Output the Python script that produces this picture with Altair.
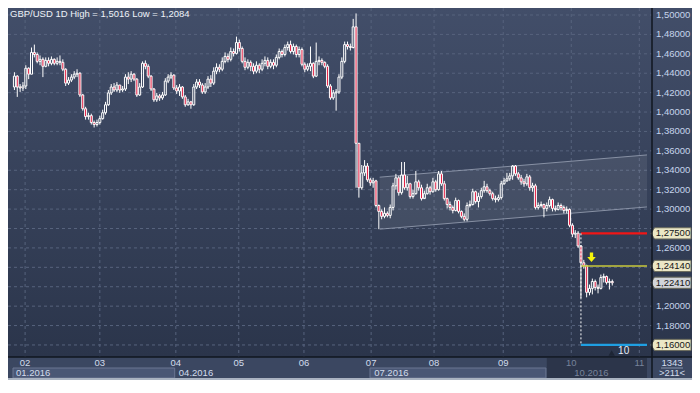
import altair as alt
import pandas as pd

FONT = "Liberation Sans"

# ---------------- data ----------------
header_text = "GBP/USD 1D  High = 1,5016  Low = 1,2084"

first_open = 1.4258
close = [
    1.4370, 1.4258, 1.4248, 1.4268, 1.4451, 1.4390, 1.4614, 1.4593, 1.4522, 1.4543,
    1.4471, 1.4532, 1.4502, 1.4543, 1.4502, 1.4522, 1.4512, 1.4441, 1.4298, 1.4329,
    1.4360, 1.4390, 1.4400, 1.4176, 1.4034, 1.3953, 1.3963, 1.3892, 1.3871, 1.3892,
    1.3932, 1.3993, 1.4075, 1.4197, 1.4258, 1.4227, 1.4278, 1.4227, 1.4237, 1.4360,
    1.4339, 1.4390, 1.4339, 1.4176, 1.4258, 1.4502, 1.4471, 1.4370, 1.4237, 1.4126,
    1.4166, 1.4146, 1.4176, 1.4319, 1.4360, 1.4380, 1.4248, 1.4217, 1.4258, 1.4156,
    1.4075, 1.4105, 1.4075, 1.4258, 1.4309, 1.4278, 1.4207, 1.4258, 1.4339, 1.4298,
    1.4421, 1.4461, 1.4441, 1.4522, 1.4573, 1.4543, 1.4624, 1.4604, 1.4716, 1.4655,
    1.4522, 1.4461, 1.4512, 1.4471, 1.4421, 1.4482, 1.4441, 1.4502, 1.4532, 1.4471,
    1.4512, 1.4482, 1.4563, 1.4624, 1.4593, 1.4665, 1.4695, 1.4624, 1.4675, 1.4593,
    1.4644, 1.4492, 1.4441, 1.4471, 1.4502, 1.4370, 1.4522, 1.4532, 1.4512, 1.4471,
    1.4268, 1.4146, 1.4197, 1.4207, 1.4360, 1.4522, 1.4695, 1.4675, 1.4665, 1.4878,
    1.3678, 1.3220, 1.3373, 1.3444, 1.3302, 1.3271, 1.3291, 1.3037, 1.2976, 1.2925,
    1.2956, 1.2935, 1.3017, 1.3240, 1.3322, 1.3169, 1.3352, 1.3220, 1.3261, 1.3129,
    1.3159, 1.3281, 1.3220, 1.3108, 1.3159, 1.3220, 1.3179, 1.3281, 1.3200, 1.3363,
    1.3261, 1.3108, 1.3047, 1.3017, 1.2986, 1.3088, 1.2976, 1.2925, 1.2895, 1.3037,
    1.3047, 1.3179, 1.3078, 1.3129, 1.3190, 1.3230, 1.3190, 1.3159, 1.3108, 1.3098,
    1.3118, 1.3261, 1.3291, 1.3312, 1.3342, 1.3444, 1.3363, 1.3322, 1.3281, 1.3261,
    1.3332, 1.3220, 1.3240, 1.3017, 1.3037, 1.3047, 1.3007, 1.3037, 1.3098, 1.3007,
    1.2996, 1.3037, 1.3017, 1.2986, 1.2996, 1.2833, 1.2742, 1.2752, 1.2620, 1.2447,
    1.2417, 1.2142, 1.2183, 1.2254, 1.2193, 1.2183, 1.2295, 1.2305, 1.2244, 1.2254,
    1.2241,
]
high = [
    1.4410, 1.4380, 1.4288, 1.4309, 1.4482, 1.4461, 1.4665, 1.4695, 1.4614, 1.4583,
    1.4563, 1.4563, 1.4563, 1.4573, 1.4553, 1.4563, 1.4583, 1.4543, 1.4451, 1.4360,
    1.4390, 1.4421, 1.4441, 1.4410, 1.4187, 1.4054, 1.3993, 1.3983, 1.3912, 1.3922,
    1.3963, 1.4024, 1.4105, 1.4227, 1.4288, 1.4298, 1.4309, 1.4278, 1.4268, 1.4390,
    1.4410, 1.4421, 1.4400, 1.4349, 1.4298, 1.4522, 1.4532, 1.4492, 1.4380, 1.4248,
    1.4197, 1.4187, 1.4207, 1.4349, 1.4390, 1.4410, 1.4390, 1.4278, 1.4288, 1.4268,
    1.4176, 1.4136, 1.4115, 1.4288, 1.4339, 1.4339, 1.4298, 1.4298, 1.4370, 1.4380,
    1.4461, 1.4502, 1.4492, 1.4563, 1.4614, 1.4604, 1.4665, 1.4655, 1.4777, 1.4746,
    1.4675, 1.4563, 1.4543, 1.4532, 1.4502, 1.4522, 1.4502, 1.4543, 1.4573, 1.4563,
    1.4543, 1.4543, 1.4593, 1.4655, 1.4644, 1.4695, 1.4726, 1.4736, 1.4705, 1.4695,
    1.4675, 1.4665, 1.4512, 1.4502, 1.4675, 1.4512, 1.4716, 1.4573, 1.4553, 1.4522,
    1.4492, 1.4288, 1.4227, 1.4237, 1.4390, 1.4563, 1.4726, 1.4726, 1.4705, 1.4960,
    1.5016, 1.3627, 1.3454, 1.3505, 1.3474, 1.3322, 1.3322, 1.3302, 1.3047, 1.2996,
    1.3017, 1.2976, 1.3047, 1.3271, 1.3363, 1.3342, 1.3485, 1.3485, 1.3342, 1.3271,
    1.3200, 1.3393, 1.3302, 1.3251, 1.3190, 1.3261, 1.3240, 1.3322, 1.3302, 1.3393,
    1.3393, 1.3291, 1.3118, 1.3078, 1.3037, 1.3118, 1.3098, 1.2986, 1.2956, 1.3068,
    1.3088, 1.3210, 1.3190, 1.3169, 1.3220, 1.3291, 1.3261, 1.3210, 1.3179, 1.3139,
    1.3149, 1.3291, 1.3322, 1.3373, 1.3373, 1.3454, 1.3454, 1.3383, 1.3352, 1.3312,
    1.3363, 1.3352, 1.3271, 1.3261, 1.3068, 1.3078, 1.3057, 1.3068, 1.3129, 1.3108,
    1.3037, 1.3068, 1.3057, 1.3037, 1.3027, 1.3007, 1.2854, 1.2783, 1.2773, 1.2630,
    1.2477, 1.2427, 1.2223, 1.2284, 1.2274, 1.2223, 1.2325, 1.2335, 1.2315, 1.2284,
    1.2274,
]
low = [
    1.4227, 1.4156, 1.4207, 1.4217, 1.4237, 1.4339, 1.4390, 1.4563, 1.4502, 1.4482,
    1.4360, 1.4461, 1.4471, 1.4482, 1.4482, 1.4482, 1.4482, 1.4421, 1.4268, 1.4278,
    1.4309, 1.4339, 1.4360, 1.4156, 1.4014, 1.3922, 1.3922, 1.3871, 1.3841, 1.3851,
    1.3871, 1.3922, 1.3973, 1.4064, 1.4176, 1.4207, 1.4207, 1.4197, 1.4207, 1.4217,
    1.4288, 1.4309, 1.4319, 1.4156, 1.4166, 1.4248, 1.4441, 1.4349, 1.4217, 1.4105,
    1.4105, 1.4115, 1.4126, 1.4166, 1.4298, 1.4339, 1.4227, 1.4187, 1.4166, 1.4136,
    1.4054, 1.4064, 1.4034, 1.4064, 1.4237, 1.4248, 1.4187, 1.4187, 1.4237, 1.4258,
    1.4278, 1.4390, 1.4410, 1.4421, 1.4502, 1.4512, 1.4522, 1.4573, 1.4593, 1.4624,
    1.4502, 1.4431, 1.4441, 1.4421, 1.4390, 1.4400, 1.4400, 1.4421, 1.4471, 1.4441,
    1.4451, 1.4441, 1.4461, 1.4543, 1.4563, 1.4573, 1.4634, 1.4604, 1.4593, 1.4563,
    1.4563, 1.4471, 1.4410, 1.4421, 1.4421, 1.4349, 1.4360, 1.4482, 1.4482, 1.4451,
    1.4248, 1.4126, 1.4126, 1.4014, 1.4187, 1.4339, 1.4502, 1.4644, 1.4634, 1.4655,
    1.3220, 1.3118, 1.3200, 1.3342, 1.3281, 1.3240, 1.3220, 1.3017, 1.2793, 1.2895,
    1.2905, 1.2915, 1.2905, 1.2986, 1.3200, 1.3139, 1.3149, 1.3200, 1.3190, 1.3108,
    1.3108, 1.3149, 1.3190, 1.3088, 1.3118, 1.3149, 1.3149, 1.3169, 1.3179, 1.3190,
    1.3240, 1.3088, 1.3007, 1.2986, 1.2956, 1.2976, 1.2956, 1.2905, 1.2874, 1.2874,
    1.3017, 1.3037, 1.3057, 1.3017, 1.3108, 1.3169, 1.3169, 1.3139, 1.3088, 1.3068,
    1.3078, 1.3098, 1.3251, 1.3281, 1.3291, 1.3302, 1.3342, 1.3302, 1.3251, 1.3230,
    1.3240, 1.3190, 1.3179, 1.2996, 1.2996, 1.3017, 1.2915, 1.2976, 1.3017, 1.2976,
    1.2976, 1.2986, 1.2986, 1.2956, 1.2956, 1.2813, 1.2711, 1.2701, 1.2600, 1.2084,
    1.2386, 1.2091, 1.2111, 1.2121, 1.2162, 1.2132, 1.2172, 1.2244, 1.2223, 1.2172,
    1.2213,
]

grid_ticks = [1.50, 1.48, 1.46, 1.44, 1.42, 1.40, 1.38, 1.36, 1.34, 1.32,
              1.30, 1.28, 1.26, 1.24, 1.22, 1.20, 1.18, 1.16]
# labels that are not hidden behind a price tag
label_ticks = [1.50, 1.48, 1.46, 1.44, 1.42, 1.40, 1.38, 1.36, 1.34, 1.32,
               1.30, 1.26, 1.20, 1.18]

month_pos = [3.75, 30.0, 56.7, 78.8, 101.7, 125.3, 147.4, 171.7, 195.6, 219.5]
month_lbl = ["02", "03", "04", "05", "06", "07", "08", "09", "10", "11"]
month_dim = ["n", "n", "n", "n", "n", "n", "n", "n", "d", "d"]

quarter_pos = [-0.5, 56.7, 125.3, 195.6]
quarter_lbl = ["01.2016", "04.2016", "07.2016", "10.2016"]
quarter_dim = ["n", "n", "n", "d"]
qbox_start = [-0.5, 124.9]
qbox_end = [56.3, 186.7]
dark_start = [187.0]
dark_end = [222.2]

channel_x = [128.3, 222.2]
channel_lo = [1.2793, 1.3022]
channel_hi = [1.3329, 1.3558]

level_price = [1.2750, 1.2414, 1.1600]
level_color = ["#f21616", "#c8c83a", "#1f9fe2"]
level_width = [2.2, 1.5, 2.2]
level_start = 199.0
level_end = 222.2

tag_price = [1.2750, 1.2414, 1.2241, 1.1600]
tag_text = ["1,27500", "1,24140", "1,22410", "1,16000"]
tag_fill = ["#ebe7c6", "#ebe7c6", "#d2d5da", "#ebe7c6"]

arrow_x = [202.7]
arrow_p = [1.2503]
event_x = [214.0]
event_lbl = ["10"]
corner_top = "1343"
corner_bottom = ">211<"

# ---------------- tables ----------------
opens = [first_open] + close[:-1]
df = pd.DataFrame({"i": range(len(close)), "o": opens, "c": close, "h": high, "l": low})
df["top"] = df[["o", "c"]].max(axis=1)
df["bot"] = df[["o", "c"]].min(axis=1)

W, H = 644, 349      # plot area
PR, PB = 40, 23      # right price panel, bottom date strip
xs = alt.Scale(domain=[-0.5, 222.2], nice=False, zero=False)
ys = alt.Scale(domain=[1.1476, 1.5072], nice=False, zero=False)


def X(f):
    return alt.X(f"{f}:Q", scale=xs, axis=None)


def Y(f):
    return alt.Y(f"{f}:Q", scale=ys, axis=None)


one = pd.DataFrame({"k": [0]})
grad = {"gradient": "linear", "x1": 0, "y1": 0, "x2": 0, "y2": 1,
        "stops": [{"offset": 0, "color": "#424e69"}, {"offset": 1, "color": "#2b354b"}]}

layers = []
# backgrounds
layers.append(alt.Chart(one).mark_rect(fill=grad).encode(
    x=alt.value(0), x2=alt.value(W), y=alt.value(0), y2=alt.value(H)))
layers.append(alt.Chart(one).mark_rect(fill=grad).encode(
    x=alt.value(W), x2=alt.value(W + PR), y=alt.value(0), y2=alt.value(H)))

# grid
layers.append(alt.Chart(pd.DataFrame({"p": grid_ticks})).mark_rule(
    color="#57637d", strokeDash=[3, 3], strokeWidth=1).encode(
    y=Y("p"), x=alt.value(0), x2=alt.value(W)))
mdf = pd.DataFrame({"m": month_pos, "lbl": month_lbl, "dim": month_dim})
layers.append(alt.Chart(mdf).mark_rule(
    color="#57637d", strokeDash=[3, 3], strokeWidth=1).encode(
    x=X("m"), y=alt.value(0), y2=alt.value(H)))

# channel
cdf = pd.DataFrame({"x": channel_x, "lo": channel_lo, "hi": channel_hi})
layers.append(alt.Chart(cdf).mark_area(color="#ffffff", opacity=0.08).encode(
    x=X("x"), y=Y("lo"), y2=alt.Y2("hi")))
layers.append(alt.Chart(cdf).mark_line(color="#9aa3b5", strokeWidth=1, opacity=0.8).encode(
    x=X("x"), y=Y("lo")))
layers.append(alt.Chart(cdf).mark_line(color="#9aa3b5", strokeWidth=1, opacity=0.8).encode(
    x=X("x"), y=Y("hi")))

# candles
layers.append(alt.Chart(df).mark_rule(color="#ffffff", strokeWidth=1).encode(
    x=X("i"), y=Y("top"), y2=alt.Y2("h")))
layers.append(alt.Chart(df).mark_rule(color="#ffffff", strokeWidth=1).encode(
    x=X("i"), y=Y("l"), y2=alt.Y2("bot")))
layers.append(alt.Chart(df).transform_filter("datum.c >= datum.o").mark_bar(
    size=2, fill="#000000", fillOpacity=0, stroke="#ffffff", strokeWidth=1).encode(
    x=X("i"), y=Y("o"), y2=alt.Y2("c")))
layers.append(alt.Chart(df).transform_filter("datum.c < datum.o").mark_bar(
    size=2, fill="#e3163c", stroke="#ffffff", strokeWidth=1).encode(
    x=X("i"), y=Y("o"), y2=alt.Y2("c")))

# level lines
for p, col, w in zip(level_price, level_color, level_width):
    ldf = pd.DataFrame({"s": [level_start], "e": [level_end], "p": [p]})
    layers.append(alt.Chart(ldf).mark_rule(color=col, strokeWidth=w).encode(
        x=X("s"), x2=alt.X2("e"), y=Y("p")))
vdf = pd.DataFrame({"x": [level_start], "a": [level_price[0]], "b": [level_price[-1]]})
layers.append(alt.Chart(vdf).mark_rule(color="#ffffff", strokeDash=[2, 2], strokeWidth=1).encode(
    x=X("x"), y=Y("a"), y2=alt.Y2("b")))

# yellow arrow
arrow_path = "M-0.35,-1 L0.35,-1 L0.35,-0.05 L0.9,-0.05 L0,1 L-0.9,-0.05 L-0.35,-0.05 Z"
layers.append(alt.Chart(pd.DataFrame({"x": arrow_x, "p": arrow_p})).mark_point(
    shape=arrow_path, filled=True, fill="#f4f40c", size=90, opacity=1, strokeWidth=0).encode(
    x=X("x"), y=Y("p")))

# event marker "10"
edf = pd.DataFrame({"x": event_x, "lbl": event_lbl})
layers.append(alt.Chart(edf).mark_point(
    shape="triangle-up", filled=True, fill="#1d2535", size=40, opacity=1, xOffset=-12).encode(
    x=X("x"), y=alt.value(H - 4)))
layers.append(alt.Chart(edf).mark_text(
    font=FONT, fontSize=10, color="#e6edf7", align="center", baseline="middle").encode(
    x=X("x"), y=alt.value(H - 6), text="lbl:N"))

# y labels
ydf = pd.DataFrame({"p": label_ticks,
                    "lbl": [f"{v:.5f}".replace(".", ",") for v in label_ticks]})
layers.append(alt.Chart(ydf).mark_text(
    font=FONT, fontSize=9.5, color="#c6d4ec", align="left", baseline="middle").encode(
    x=alt.value(W + 4), y=Y("p"), text="lbl:N"))

# price tags
tag_path = "M-1,0 L-0.82,-0.28 L1,-0.28 L1,0.28 L-0.82,0.28 Z"
tdf = pd.DataFrame({"p": tag_price, "lbl": tag_text, "f": tag_fill})
layers.append(alt.Chart(tdf).mark_point(
    shape=tag_path, filled=True, size=1600, opacity=1, stroke="#6b6b5c", strokeWidth=1).encode(
    x=alt.value(W + 19), y=Y("p"), fill=alt.Fill("f:N", scale=None)))
layers.append(alt.Chart(tdf).mark_text(
    font=FONT, fontSize=9.5, color="#161616", align="center", baseline="middle").encode(
    x=alt.value(W + 21), y=Y("p"), text="lbl:N"))

# header
layers.append(alt.Chart(pd.DataFrame({"t": [header_text]})).mark_text(
    font=FONT, fontSize=9.5, color="#eef2f8", align="left", baseline="top").encode(
    x=alt.value(2), y=alt.value(1), text="t:N"))

# bottom strip
layers.append(alt.Chart(pd.DataFrame({"s": dark_start, "e": dark_end})).mark_rect(
    fill="#2c354a").encode(x=X("s"), x2=alt.X2("e"), y=alt.value(H + 1), y2=alt.value(H + 21)))
layers.append(alt.Chart(pd.DataFrame({"s": qbox_start, "e": qbox_end})).mark_rect(
    fill="#4a5775", stroke="#6a7692", strokeWidth=1).encode(
    x=X("s"), x2=alt.X2("e"), y=alt.value(H + 11), y2=alt.value(H + 21)))
dimscale = alt.Scale(domain=["n", "d"], range=["#d2dcec", "#77839a"])
layers.append(alt.Chart(mdf).mark_text(
    font=FONT, fontSize=9.5, align="center", baseline="middle").encode(
    x=X("m"), y=alt.value(H + 6), text="lbl:N",
    color=alt.Color("dim:N", scale=dimscale, legend=None)))
qdf = pd.DataFrame({"q": quarter_pos, "lbl": quarter_lbl, "dim": quarter_dim})
layers.append(alt.Chart(qdf).mark_text(
    font=FONT, fontSize=9.5, align="left", baseline="middle", dx=3).encode(
    x=X("q"), y=alt.value(H + 16), text="lbl:N",
    color=alt.Color("dim:N", scale=dimscale, legend=None)))

# separators
layers.append(alt.Chart(one).mark_rule(color="#11161f", strokeWidth=1.5).encode(
    x=alt.value(W), y=alt.value(0), y2=alt.value(H + PB)))
layers.append(alt.Chart(one).mark_rule(color="#11161f", strokeWidth=1.5).encode(
    x=alt.value(0), x2=alt.value(W + PR), y=alt.value(H)))

# corner
layers.append(alt.Chart(pd.DataFrame({"t": [corner_top]})).mark_text(
    font=FONT, fontSize=9.5, color="#d2dcec", align="center", baseline="middle").encode(
    x=alt.value(W + 20), y=alt.value(H + 6), text="t:N"))
layers.append(alt.Chart(one).mark_rule(color="#8794ab", strokeWidth=1).encode(
    x=alt.value(W + 9), x2=alt.value(W + 31), y=alt.value(H + 11)))
layers.append(alt.Chart(pd.DataFrame({"t": [corner_bottom]})).mark_text(
    font=FONT, fontSize=9.5, color="#d2dcec", align="center", baseline="middle").encode(
    x=alt.value(W + 20), y=alt.value(H + 16), text="t:N"))

# bottom frame
layers.append(alt.Chart(one).mark_rect(fill="#aab3c1").encode(
    x=alt.value(0), x2=alt.value(W + PR), y=alt.value(H + 21), y2=alt.value(H + PB)))

chart = alt.layer(*layers).properties(
    width=W, height=H,
    padding={"left": 0, "top": 0, "right": PR, "bottom": PB},
    autosize=alt.AutoSizeParams(type="none"),
    background="#3b4761",
).configure_view(stroke=None)

chart.save("out.html", embed_options={"renderer": "svg", "actions": False})
